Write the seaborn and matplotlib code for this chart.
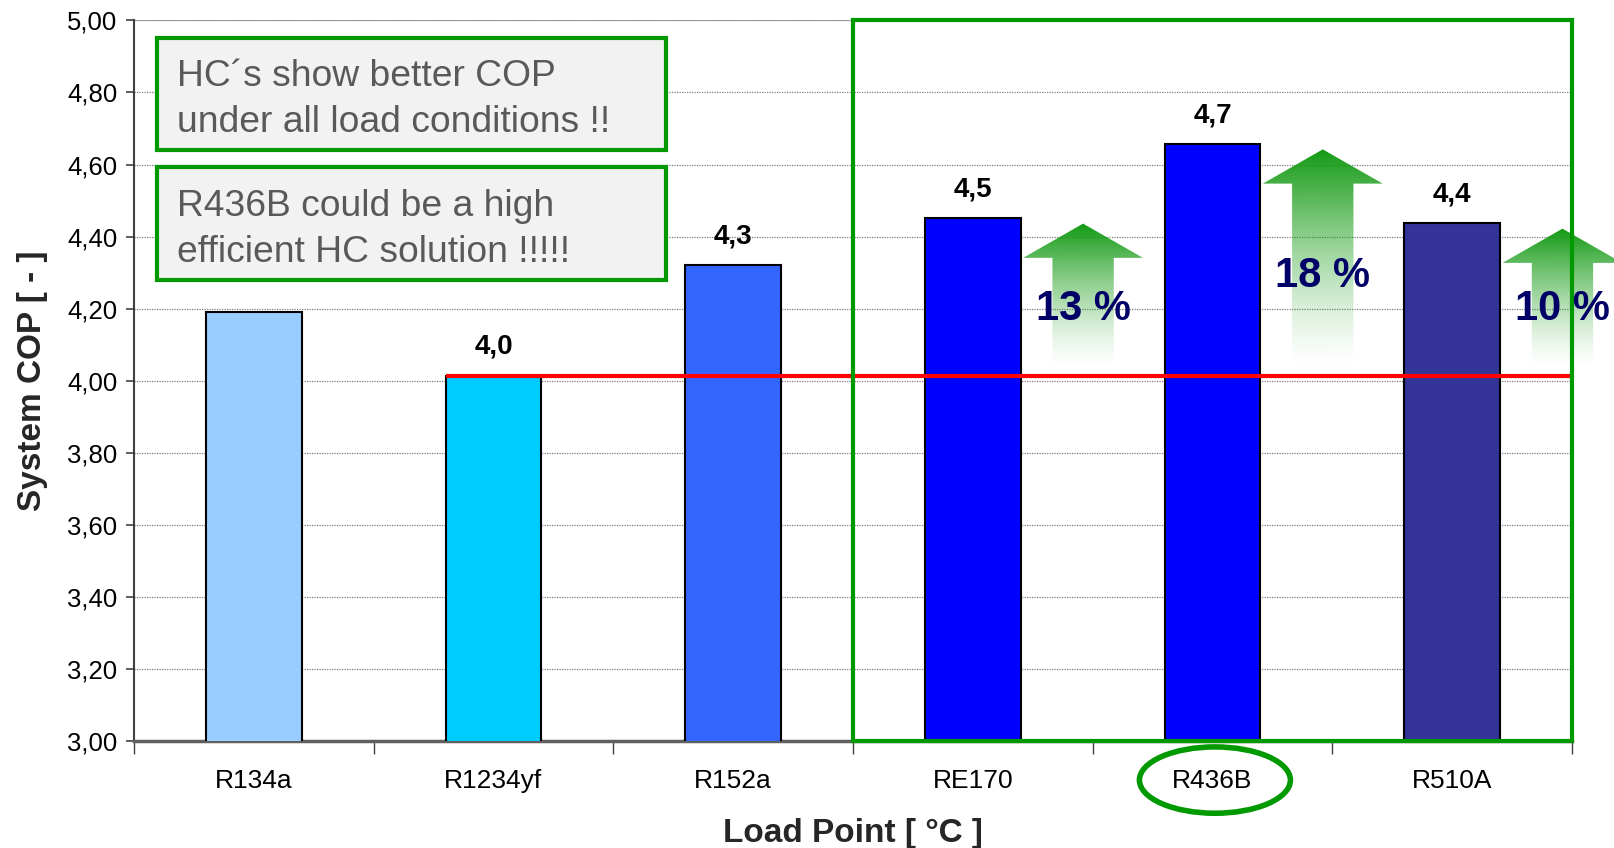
import numpy as np
import pandas as pd
import matplotlib
matplotlib.use('Agg')
import matplotlib.pyplot as plt
import matplotlib.transforms as mtransforms
from matplotlib.patches import Rectangle, Ellipse, Polygon
from matplotlib.ticker import FuncFormatter, FixedLocator
import seaborn as sns

# Data
refrigerants = ['R134a', 'R1234yf', 'R152a', 'RE170', 'R436B', 'R510A']
cop = [4.19, 4.014, 4.32, 4.451, 4.657, 4.437]
cop_labels = ['4,2', '4,0', '4,3', '4,5', '4,7', '4,4']
bar_colors = ['#99CCFF', '#00CCFF', '#3366FF', '#0000FF', '#0000FF', '#333399']

# gain vs R1234yf, drawn as arrows next to the HC bars
gain_bars = [3, 4, 5]
gain_labels = ['13 %', '18 %', '10 %']
gain_text_y = [4.20, 4.29, 4.20]

box_texts = ["HC´s show better COP\nunder all load conditions !!",
             "R436B could be a high\nefficient HC solution !!!!!"]

sns.set_theme(style='white')
plt.rcParams['font.family'] = ['Liberation Sans', 'DejaVu Sans']

df = pd.DataFrame({'refrigerant': refrigerants, 'cop': cop})

fig = plt.figure(figsize=(16.14, 8.48), dpi=100)
ax = fig.add_axes([0.083, 0.126, 0.891, 0.850])

sns.barplot(data=df, x='refrigerant', y='cop', hue='refrigerant',
            palette=bar_colors, saturation=1, width=0.4, edgecolor='black',
            linewidth=1.5, legend=False, ax=ax, zorder=3)

ax.set_xlim(-0.5, 5.5)
ax.set_ylim(3.0, 5.0)

# y axis
ax.set_yticks(np.arange(3.0, 5.01, 0.2))
ax.yaxis.set_major_formatter(FuncFormatter(lambda v, p: f'{v:.2f}'.replace('.', ',')))
ax.tick_params(axis='y', which='major', left=True, length=6, width=1.2,
               color='#404040', pad=6, labelsize=18.5, labelcolor='black')
ax.yaxis.grid(True, linestyle=(0, (1, 1)), color='#808080', linewidth=0.9, zorder=0)
ax.axhline(5.0, color='#999999', lw=1.5, zorder=1)

# x axis: labels at centres, ticks on category boundaries
ax.xaxis.set_minor_locator(FixedLocator(np.arange(-0.5, 5.6, 1.0)))
ax.tick_params(axis='x', which='major', bottom=False, length=0, pad=20,
               labelsize=19, labelcolor='black')
ax.tick_params(axis='x', which='minor', bottom=True, length=9, width=1.0,
               color='#404040', direction='out')

for side in ['top', 'right']:
    ax.spines[side].set_visible(False)
ax.spines['left'].set_color('#404040')
ax.spines['left'].set_linewidth(1.5)
ax.spines['bottom'].set_color('#606060')
ax.spines['bottom'].set_linewidth(2.5)

ax.set_xlabel('Load Point [ °C ]', fontsize=24, fontweight='bold')
ax.set_ylabel('System COP [ - ]', fontsize=24, fontweight='bold')
ax.xaxis.set_label_coords(0.5, -0.106)
ax.yaxis.set_label_coords(-0.060, 0.5)

# value labels (the R134a one sits mostly behind the text box)
for i, (v, lab) in enumerate(zip(cop, cop_labels)):
    dy = 0.08 if i > 0 else 0.118
    ax.text(i, v + dy, lab, ha='center', va='center', fontsize=20,
            fontweight='bold', color='black', zorder=4)

# reference line at R1234yf level
ax.plot([1 - 0.2, 5.5], [cop[1], cop[1]], color='#FF0000', lw=3, zorder=4,
        solid_capstyle='butt')

# green frame around HC group
ax.add_patch(Rectangle((2.5, 3.0), 3.0, 2.0, fill=False, edgecolor='#009900',
                       lw=3, zorder=6, clip_on=False))

# gradient arrows
green = np.array([0.07, 0.60, 0.07])
for bi, lab, ty in zip(gain_bars, gain_labels, gain_text_y):
    cx = bi + 0.46
    tip = cop[bi] - 0.015
    base = tip - 0.095
    bottom = cop[1] + 0.02
    hw, sw = 0.25, 0.128
    verts = [(cx, tip), (cx + hw, base), (cx + sw, base), (cx + sw, bottom),
             (cx - sw, bottom), (cx - sw, base), (cx - hw, base)]
    poly = Polygon(verts, closed=True, facecolor='none', edgecolor='none',
                   transform=ax.transData)
    n = 200
    t = np.linspace(0, 1, n)
    rgba = np.zeros((n, 1, 4))
    rgba[:, 0, :3] = green
    rgba[:, 0, 3] = t ** 1.4
    im = ax.imshow(rgba, extent=[cx - hw, cx + hw, bottom, tip], origin='lower',
                   aspect='auto', zorder=5, interpolation='bilinear')
    im.set_clip_path(poly)
    im.set_clip_box(fig.bbox)
    ax.text(cx, ty, lab, ha='center', va='center', fontsize=30,
            fontweight='bold', color='#000066', zorder=7, clip_on=False)

ax.set_xlim(-0.5, 5.5)
ax.set_ylim(3.0, 5.0)

# text boxes
box_y = [(0.820, 0.976), (0.640, 0.796)]
for txt, (y0, y1) in zip(box_texts, box_y):
    ax.add_patch(Rectangle((0.0157, y0), 0.354, y1 - y0, transform=ax.transAxes,
                           facecolor='#F2F2F2', edgecolor='#009900', lw=3, zorder=8))
    ax.text(0.030, (y0 + y1) / 2 - 0.008, txt, transform=ax.transAxes, ha='left',
            va='center', fontsize=26.8, color='#595959', zorder=9,
            linespacing=1.42)

# ellipse around R436B label
trans = mtransforms.blended_transform_factory(ax.transData, ax.transAxes)
ax.add_patch(Ellipse((4.01, -0.054), 0.63, 0.092, transform=trans, fill=False,
                     edgecolor='#009900', lw=4, clip_on=False, zorder=6))

fig.savefig('out.png', dpi=100)
